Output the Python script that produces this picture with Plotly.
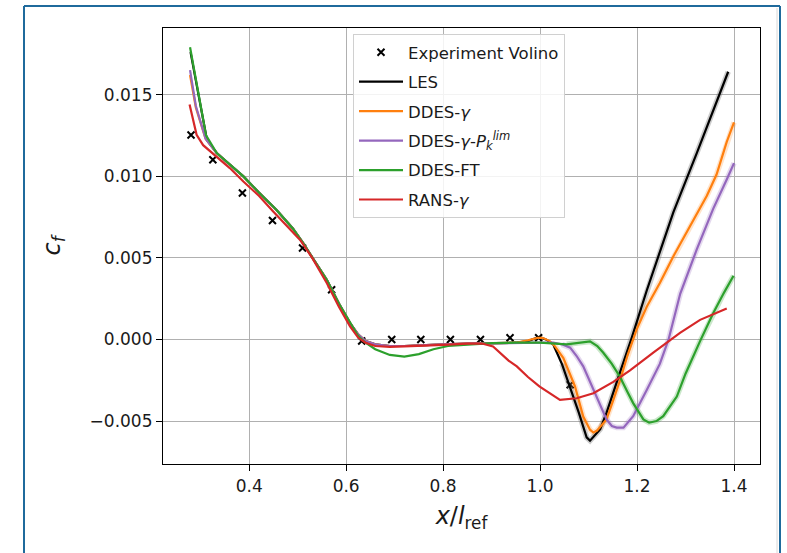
import plotly.graph_objects as go

# ---- skin-friction data along the plate ----
exp_x = [0.280, 0.325, 0.386, 0.448, 0.510, 0.570, 0.632, 0.694, 0.754, 0.815, 0.877, 0.938, 0.997, 1.062]
exp_y = [0.01252, 0.01101, 0.00897, 0.00729, 0.00560, 0.00305, -0.0001, 0.0, 0.0, 0.0, 0.0, 0.0001, 0.0001, -0.00278]

les_x = [0.279, 0.313, 0.333, 0.36, 0.388, 0.42, 0.456, 0.49, 0.511, 0.535,
         0.56, 0.585, 0.608, 0.625, 0.64, 0.66, 0.69, 0.72, 0.75, 0.8,
         0.85, 0.9, 0.95, 0.975, 0.998, 1.012, 1.027, 1.045, 1.062, 1.08,
         1.096, 1.103, 1.124, 1.137, 1.165, 1.189, 1.22, 1.275, 1.323, 1.357,
         1.378, 1.388]
les_y = [0.0176, 0.0122, 0.01142, 0.0107, 0.00999, 0.0090, 0.00795, 0.0068, 0.00591, 0.0048,
         0.00366, 0.0022, 0.0010, 0.0003, -0.0001, -0.0003, -0.0004, -0.0004, -0.00038, -0.0003,
         -0.00026, -0.00023, -0.0002, -0.0001, 0.00015, 0.0, -0.0003, -0.0015, -0.0029, -0.0045,
         -0.0060, -0.0062, -0.0055, -0.0045, -0.0020, 0.0001, 0.0030, 0.0078, 0.0114, 0.0140,
         0.0156, 0.0164]

ddes_g_x = [0.278, 0.29, 0.31, 0.333, 0.36, 0.388, 0.42, 0.456, 0.49, 0.511,
            0.535, 0.56, 0.585, 0.608, 0.625, 0.64, 0.66, 0.69, 0.72, 0.75,
            0.8, 0.85, 0.9, 0.95, 0.975, 0.995, 1.005, 1.02, 1.03, 1.048,
            1.072, 1.089, 1.103, 1.11, 1.117, 1.137, 1.15, 1.165, 1.18, 1.199,
            1.22, 1.247, 1.275, 1.309, 1.344, 1.364, 1.385, 1.4]
ddes_g_y = [0.0162, 0.0142, 0.0123, 0.01142, 0.0107, 0.00999, 0.0090, 0.00795, 0.0068, 0.00591,
            0.0048, 0.00366, 0.0022, 0.0010, 0.0003, -0.0001, -0.0003, -0.0004, -0.0004, -0.00038,
            -0.0003, -0.00026, -0.00023, -0.0002, -0.00005, 0.0001, 0.0001, -0.0001, -0.0004, -0.00114,
            -0.00288, -0.00472, -0.00553, -0.0057, -0.0056, -0.0049, -0.0038, -0.0025, -0.0010, 0.0006,
            0.0020, 0.00346, 0.0051, 0.0069, 0.0088, 0.0101, 0.0121, 0.0133]

ddes_pk_x = [0.278, 0.29, 0.31, 0.333, 0.36, 0.388, 0.42, 0.456, 0.49, 0.511,
             0.535, 0.56, 0.585, 0.608, 0.625, 0.64, 0.66, 0.69, 0.72, 0.75,
             0.8, 0.85, 0.9, 0.95, 1.0, 1.027, 1.045, 1.062, 1.075, 1.089,
             1.103, 1.117, 1.137, 1.148, 1.158, 1.172, 1.192, 1.22, 1.247, 1.265,
             1.289, 1.323, 1.357, 1.385, 1.4]
ddes_pk_y = [0.0165, 0.0143, 0.0123, 0.01142, 0.0107, 0.00999, 0.0090, 0.00795, 0.0068, 0.00591,
             0.0048, 0.00366, 0.0022, 0.0010, 0.0003, -0.0001, -0.0003, -0.0004, -0.0004, -0.00038,
             -0.0003, -0.00026, -0.00023, -0.0002, -0.0002, -0.0002, -0.0003, -0.0005, -0.0010, -0.00165,
             -0.0026, -0.0035, -0.0049, -0.0053, -0.0054, -0.0054, -0.0047, -0.0031, -0.0015, 0.0,
             0.0028, 0.0055, 0.0080, 0.0098, 0.0108]

ddes_ft_x = [0.278, 0.298, 0.311, 0.333, 0.36, 0.388, 0.42, 0.456, 0.49, 0.511,
             0.535, 0.56, 0.585, 0.608, 0.625, 0.64, 0.66, 0.69, 0.72, 0.75,
             0.78, 0.81, 0.85, 0.9, 0.95, 1.0, 1.055, 1.08, 1.103, 1.118,
             1.13, 1.148, 1.165, 1.18, 1.192, 1.213, 1.225, 1.24, 1.254, 1.282,
             1.30, 1.33, 1.357, 1.38, 1.399]
ddes_ft_y = [0.0179, 0.0146, 0.0125, 0.01142, 0.0107, 0.00999, 0.0090, 0.00795, 0.0068, 0.00591,
             0.0048, 0.00366, 0.0022, 0.0010, 0.0002, -0.0002, -0.0006, -0.00095, -0.00105, -0.0009,
             -0.0006, -0.0004, -0.0003, -0.00022, -0.0002, -0.0002, -0.0003, -0.0002, -0.00012, -0.0004,
             -0.0008, -0.0015, -0.0023, -0.0032, -0.0039, -0.0049, -0.0051, -0.0050, -0.0047, -0.0035,
             -0.0021, -0.0001, 0.0016, 0.0029, 0.0039]

rans_x = [0.277, 0.285, 0.2915, 0.305, 0.333, 0.36, 0.388, 0.42, 0.4495, 0.48, 0.5046,
          0.53, 0.56, 0.585, 0.608, 0.625, 0.64, 0.66, 0.69, 0.72, 0.75,
          0.8, 0.85, 0.88, 0.903, 0.917, 0.935, 0.952, 0.975, 0.9985, 1.02,
          1.041, 1.0755, 1.11, 1.151, 1.1855, 1.2335, 1.2886, 1.33, 1.385]
rans_y = [0.0144, 0.0133, 0.01254, 0.0119, 0.01121, 0.0105, 0.00968, 0.0088, 0.00784, 0.0069, 0.00611,
          0.0050, 0.00346, 0.0020, 0.0008, 0.0001, -0.0002, -0.0004, -0.00045, -0.00042, -0.0004,
          -0.00033, -0.00026, -0.00025, -0.00043, -0.00083, -0.0013, -0.00165, -0.0023, -0.00288, -0.0033,
          -0.0037, -0.0036, -0.0033, -0.0026, -0.0019, -0.0008, 0.0004, 0.0012, 0.0019]

x_ticks = [0.4, 0.6, 0.8, 1.0, 1.2, 1.4]
y_ticks = [-0.005, 0.0, 0.005, 0.010, 0.015]
y_tick_text = ["\u22120.005", "0.000", "0.005", "0.010", "0.015"]

# ---- page geometry (pixels) ----
W, H = 787, 553
ML, MR, MT, MB = 163, 27, 28, 89
PW, PH = W - ML - MR, H - MT - MB


def px_x(p):
    return (p - ML) / PW


def px_y(p):
    return (H - MB - p) / PH


FONT = "DejaVu Sans, Verdana, sans-serif"
TXT = "#1a1a1a"

series = [
    ("LES", les_x, les_y, "#000000", "rgba(110,110,110,0.35)"),
    ("DDES-<i>\u03b3</i>", ddes_g_x, ddes_g_y, "#ff7f0e", "rgba(255,127,14,0.22)"),
    ("DDES-<i>\u03b3</i>-<i>P</i><sub><i>k</i></sub><sup><i>lim</i></sup>", ddes_pk_x, ddes_pk_y,
     "#9467bd", "rgba(148,103,189,0.25)"),
    ("DDES-FT", ddes_ft_x, ddes_ft_y, "#2ca02c", "rgba(44,160,44,0.25)"),
    ("RANS-<i>\u03b3</i>", rans_x, rans_y, "#d62728", None),
]

fig = go.Figure()

fig.add_trace(go.Scatter(
    x=exp_x, y=exp_y, mode="markers", name="Experiment Volino",
    marker=dict(symbol="x-thin", size=7, color="black", line=dict(width=2, color="black")),
    legendgroup="exp",
))

# soft spread band around the unsteady solutions in the separated region
for name, xs, ys, col, halo in series:
    if halo is None:
        continue
    hx = [a for a in xs if a >= 1.03]
    hy = [b for a, b in zip(xs, ys) if a >= 1.03]
    fig.add_trace(go.Scatter(x=hx, y=hy, mode="lines", showlegend=False, hoverinfo="skip",
                             line=dict(color=halo, width=5.5)))

for i, (name, xs, ys, col, halo) in enumerate(series):
    fig.add_trace(go.Scatter(
        x=xs, y=ys, mode="lines", name=name, legendgroup=f"g{i}",
        line=dict(color=col, width=2.2),
    ))

axis_common = dict(
    showline=True, linecolor="black", linewidth=1.2, mirror=True,
    ticks="outside", ticklen=6, tickwidth=1.2, tickcolor="black",
    showgrid=True, gridcolor="#b0b0b0", gridwidth=1, zeroline=False,
    tickfont=dict(family=FONT, size=17, color=TXT),
)

fig.update_layout(
    width=W, height=H,
    margin=dict(l=ML, r=MR, t=MT, b=MB, pad=0),
    paper_bgcolor="white", plot_bgcolor="white",
    font=dict(family=FONT, color=TXT),
    xaxis=dict(range=[0.2222, 1.4536], tickvals=x_ticks, tickformat=".1f",
               title=dict(text="<i>x</i>/<i>l</i><sub>ref</sub>",
                          font=dict(family=FONT, size=24, color=TXT), standoff=12),
               **axis_common),
    yaxis=dict(range=[-0.00763, 0.01908], tickvals=y_ticks, ticktext=y_tick_text,
               title=dict(text="<i>c</i><sub><i>f</i></sub>",
                          font=dict(family=FONT, size=24, color=TXT), standoff=22),
               **axis_common),
    legend=dict(x=px_x(353), y=px_y(34), xanchor="left", yanchor="top",
                bgcolor="rgba(255,255,255,0.85)", bordercolor="#d0d0d0", borderwidth=1,
                font=dict(family=FONT, size=16.5, color=TXT),
                tracegroupgap=5, itemwidth=44),
    showlegend=True,
)

# outer card frame
fig.add_shape(type="line", xref="paper", yref="paper",
              x0=px_x(24), x1=px_x(24), y0=px_y(6), y1=px_y(H + 10),
              line=dict(color="#1f6a9c", width=2))
fig.add_shape(type="line", xref="paper", yref="paper",
              x0=px_x(24), x1=px_x(780), y0=px_y(6), y1=px_y(6),
              line=dict(color="#1f6a9c", width=2))
fig.add_shape(type="line", xref="paper", yref="paper",
              x0=px_x(780), x1=px_x(780), y0=px_y(6), y1=px_y(H + 10),
              line=dict(color="#1f6a9c", width=2))
fig.add_shape(type="line", xref="paper", yref="paper",
              x0=px_x(777), x1=px_x(777), y0=px_y(8), y1=px_y(H + 10),
              line=dict(color="#d8d8d8", width=1))

fig.write_html("out.html")
